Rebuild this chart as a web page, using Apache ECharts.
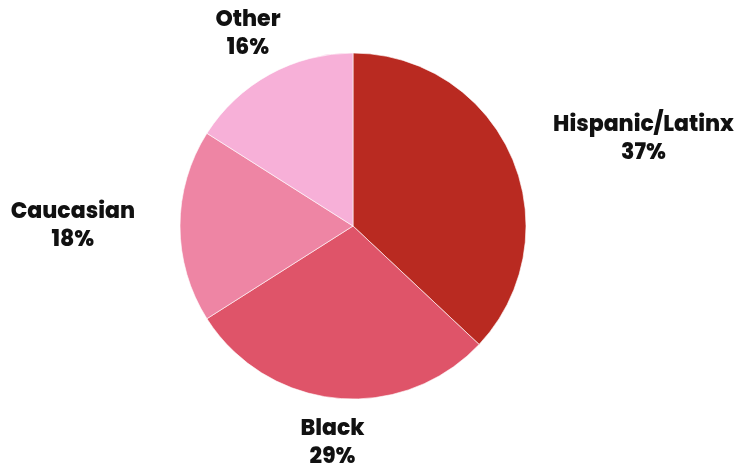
<!DOCTYPE html>
<html>
<head>
<meta charset="utf-8">
<script src="https://cdn.jsdelivr.net/npm/echarts@6/dist/echarts.min.js"></script>
<style>
html,body{margin:0;padding:0;background:#fff;}
#chart{width:749px;height:466px;}
</style>
</head>
<body>
<div id="chart"></div>
<script>
const categories = ['Hispanic/Latinx', 'Black', 'Caucasian', 'Other'];
const values = [37, 29, 18, 16];
const colors = ['#B92A21', '#DF5469', '#EE85A4', '#F7B0D8'];

const chart = echarts.init(document.getElementById('chart'));
chart.setOption({
  animation: false,
  backgroundColor: '#ffffff',
  series: [{
    type: 'pie',
    center: [353, 226],
    radius: 173,
    startAngle: 90,
    clockwise: true,
    avoidLabelOverlap: false,
    data: categories.map((c, i) => ({ name: c, value: values[i], itemStyle: { color: colors[i] } })),
    itemStyle: { borderColor: 'rgba(255,255,255,0.6)', borderWidth: 1 },
    label: {
      show: true,
      position: 'outside',
      formatter: '{n|{b}}\n{n|{d}%}',
      rich: {
        n: { fontFamily: 'Poppins, "DejaVu Sans", sans-serif', fontWeight: 800, fontSize: 22, color: '#111', align: 'center', lineHeight: 28 }
      }
    },
    labelLine: { show: true, length: 45, length2: 0, lineStyle: { opacity: 0, width: 0 } },
    labelLayout: function (p) {
      const pts = p.labelLinePoints;
      if (!pts) return {};
      const dx = pts[1][0] - pts[0][0], dy = pts[1][1] - pts[0][1];
      const n = Math.sqrt(dx * dx + dy * dy) || 1;
      const ux = dx / n;
      const align = ux > 0.7 ? 'left' : (ux < -0.7 ? 'right' : 'center');
      return { x: pts[1][0], y: pts[1][1], align: align, verticalAlign: 'middle' };
    },
    emphasis: { disabled: true }
  }]
});
</script>
</body>
</html>
